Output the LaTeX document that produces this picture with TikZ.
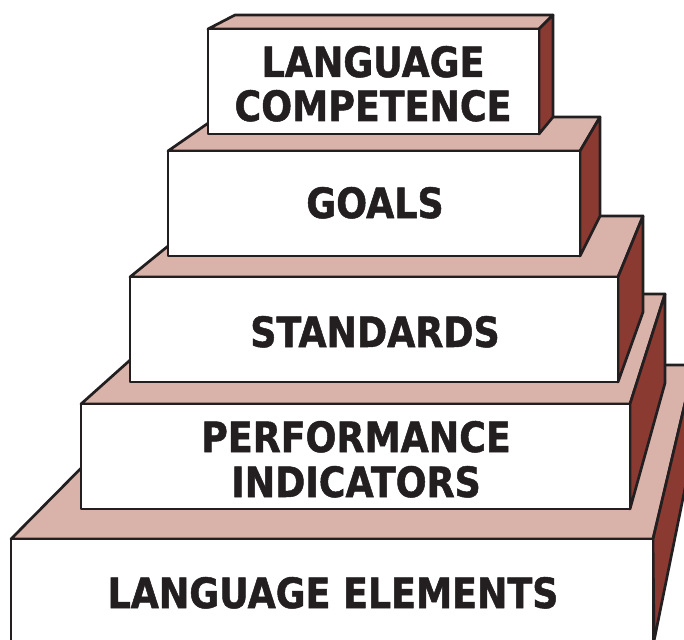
\documentclass[tikz,border=0pt]{standalone}
\usepackage{fontspec}
\newfontfamily\lblfont[FakeStretch=0.87,FakeBold=1.2]{DejaVu Sans}
\definecolor{inkline}{HTML}{231F20}
\definecolor{topface}{HTML}{D9B3AA}
\definecolor{sideface}{HTML}{8B3A32}
\begin{document}
\begin{tikzpicture}[x=1pt,y=-1pt,
  edge/.style={draw=inkline,line width=2.7pt,line join=round},
  frontface/.style={edge,fill=white},
  upperface/.style={edge,fill=topface},
  rightface/.style={edge,fill=sideface},
  lbl/.style={anchor=base,inner sep=0pt,text=inkline,
    font=\lblfont\bfseries\fontsize{41.8}{48}\selectfont}]
\useasboundingbox (0,0) rectangle (684,639);
\begin{scope}
\clip (0,0) rectangle (684,639);
% base block: language elements
\path[upperface] (11,539) -- (183,365) -- (694,365) -- (653,539) -- cycle;
\path[rightface] (653,539) -- (694,365) -- (710,365) -- (654,641) -- cycle;
\path[frontface] (11,539) -- (653,539) -- (653,650) -- (11,650) -- cycle;
% performance indicators
\path[upperface] (81,404) -- (204,294) -- (665,294) -- (630,404) -- cycle;
\path[rightface] (630,404) -- (665,294) -- (665,383) -- (630,509) -- cycle;
\path[frontface] (81,404) rectangle (630,509);
% standards
\path[upperface] (130,277) -- (205,216) -- (643,216) -- (618,277) -- cycle;
\path[rightface] (618,277) -- (643,216) -- (643,312) -- (618,382) -- cycle;
\path[frontface] (130,277) rectangle (618,382);
% goals
\path[upperface] (168,151) -- (217,117) -- (600,117) -- (580,151) -- cycle;
\path[rightface] (580,151) -- (600,117) -- (600,216) -- (580,256) -- cycle;
\path[frontface] (168,151) rectangle (580,256);
% language competence
\path[upperface] (208,29) -- (235,15) -- (553,15) -- (539,29) -- cycle;
\path[rightface] (539,29) -- (553,15) -- (553,117) -- (539,134) -- cycle;
\path[frontface] (208,29) rectangle (539,134);
\end{scope}
% labels
\node[lbl] (lc1) at (373,77) {LANGUAGE};
\node[lbl] (lc2) at (373,121) {COMPETENCE};
\node[lbl] (goals) at (375,218) {GOALS};
\node[lbl] (std) at (375,347) {STANDARDS};
\node[lbl] (pi1) at (356,452) {PERFORMANCE};
\node[lbl] (pi2) at (356,497) {INDICATORS};
\node[lbl] (le) at (333,608) {LANGUAGE ELEMENTS};
\end{tikzpicture}
\end{document}
